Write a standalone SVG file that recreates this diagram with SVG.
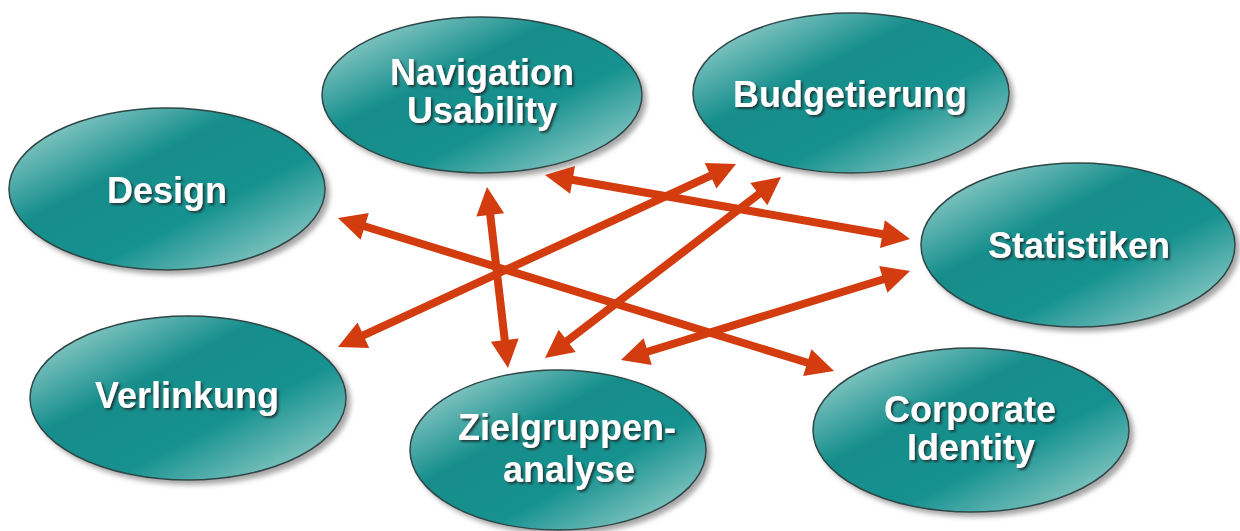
<svg xmlns="http://www.w3.org/2000/svg" width="1240" height="531" viewBox="0 0 1240 531">
  <style>
    .node ellipse { fill: url(#teal); stroke: #2f4646; stroke-width: 1.5; filter: url(#shadow); }
    .node text { font-family: "Liberation Sans", Arial, sans-serif; font-weight: bold; font-size: 36px; fill: #ffffff; text-anchor: middle; filter: url(#tshadow); }
    .conn line { stroke: #d23c0e; stroke-width: 8; marker-start: url(#head); marker-end: url(#head); }
  </style>
  <defs>
    <linearGradient id="teal" x1="0" y1="0" x2="1" y2="1">
      <stop offset="0" stop-color="#b8e0dc"/>
      <stop offset="0.38" stop-color="#138d8b"/>
      <stop offset="0.62" stop-color="#14918f"/>
      <stop offset="1" stop-color="#b3dcd7"/>
    </linearGradient>
    <filter id="shadow" x="-10%" y="-10%" width="125%" height="130%">
      <feDropShadow dx="4" dy="4" stdDeviation="2.5" flood-color="#808080" flood-opacity="0.7"/>
    </filter>
    <filter id="tshadow" x="-10%" y="-20%" width="125%" height="150%">
      <feDropShadow dx="2" dy="2" stdDeviation="0.8" flood-color="#1c3434" flood-opacity="0.9"/>
    </filter>
    <marker id="head" markerUnits="userSpaceOnUse" markerWidth="40" markerHeight="40" refX="0" refY="0" orient="auto-start-reverse" overflow="visible">
      <path d="M-2,-14 L26,0 L-2,14 Z" fill="#d23c0e"/>
    </marker>
  </defs>
  <rect width="1240" height="531" fill="#ffffff"/>

  <g id="design" class="node">
    <ellipse cx="167" cy="189" rx="158" ry="81"/>
    <text x="167" y="203">Design</text>
  </g>
  <g id="navigation" class="node">
    <ellipse cx="482" cy="95" rx="160" ry="78"/>
    <text x="482" y="85">Navigation</text>
    <text x="482" y="123">Usability</text>
  </g>
  <g id="budgetierung" class="node">
    <ellipse cx="851" cy="93" rx="158" ry="80"/>
    <text x="850" y="107">Budgetierung</text>
  </g>
  <g id="statistiken" class="node">
    <ellipse cx="1078" cy="245" rx="157" ry="82"/>
    <text x="1079" y="258">Statistiken</text>
  </g>
  <g id="verlinkung" class="node">
    <ellipse cx="188" cy="398" rx="158" ry="82"/>
    <text x="187" y="408">Verlinkung</text>
  </g>
  <g id="zielgruppen" class="node">
    <ellipse cx="558" cy="450" rx="148" ry="80"/>
    <text x="567" y="440">Zielgruppen-</text>
    <text x="569" y="482">analyse</text>
  </g>
  <g id="corporate" class="node">
    <ellipse cx="971" cy="430" rx="158" ry="82"/>
    <text x="970" y="422">Corporate</text>
    <text x="971" y="460">Identity</text>
  </g>

  <g id="connectors" class="conn">
    <line x1="362.8" y1="225.7" x2="809.2" y2="363.3"/>
    <line x1="570.6" y1="179.5" x2="884.4" y2="234.5"/>
    <line x1="361.6" y1="336.1" x2="712.4" y2="174.9"/>
    <line x1="565.6" y1="342.2" x2="760.4" y2="192.8"/>
    <line x1="490" y1="212.8" x2="505" y2="342.2"/>
    <line x1="645.8" y1="352.3" x2="885.2" y2="278.7"/>
  </g>
</svg>
